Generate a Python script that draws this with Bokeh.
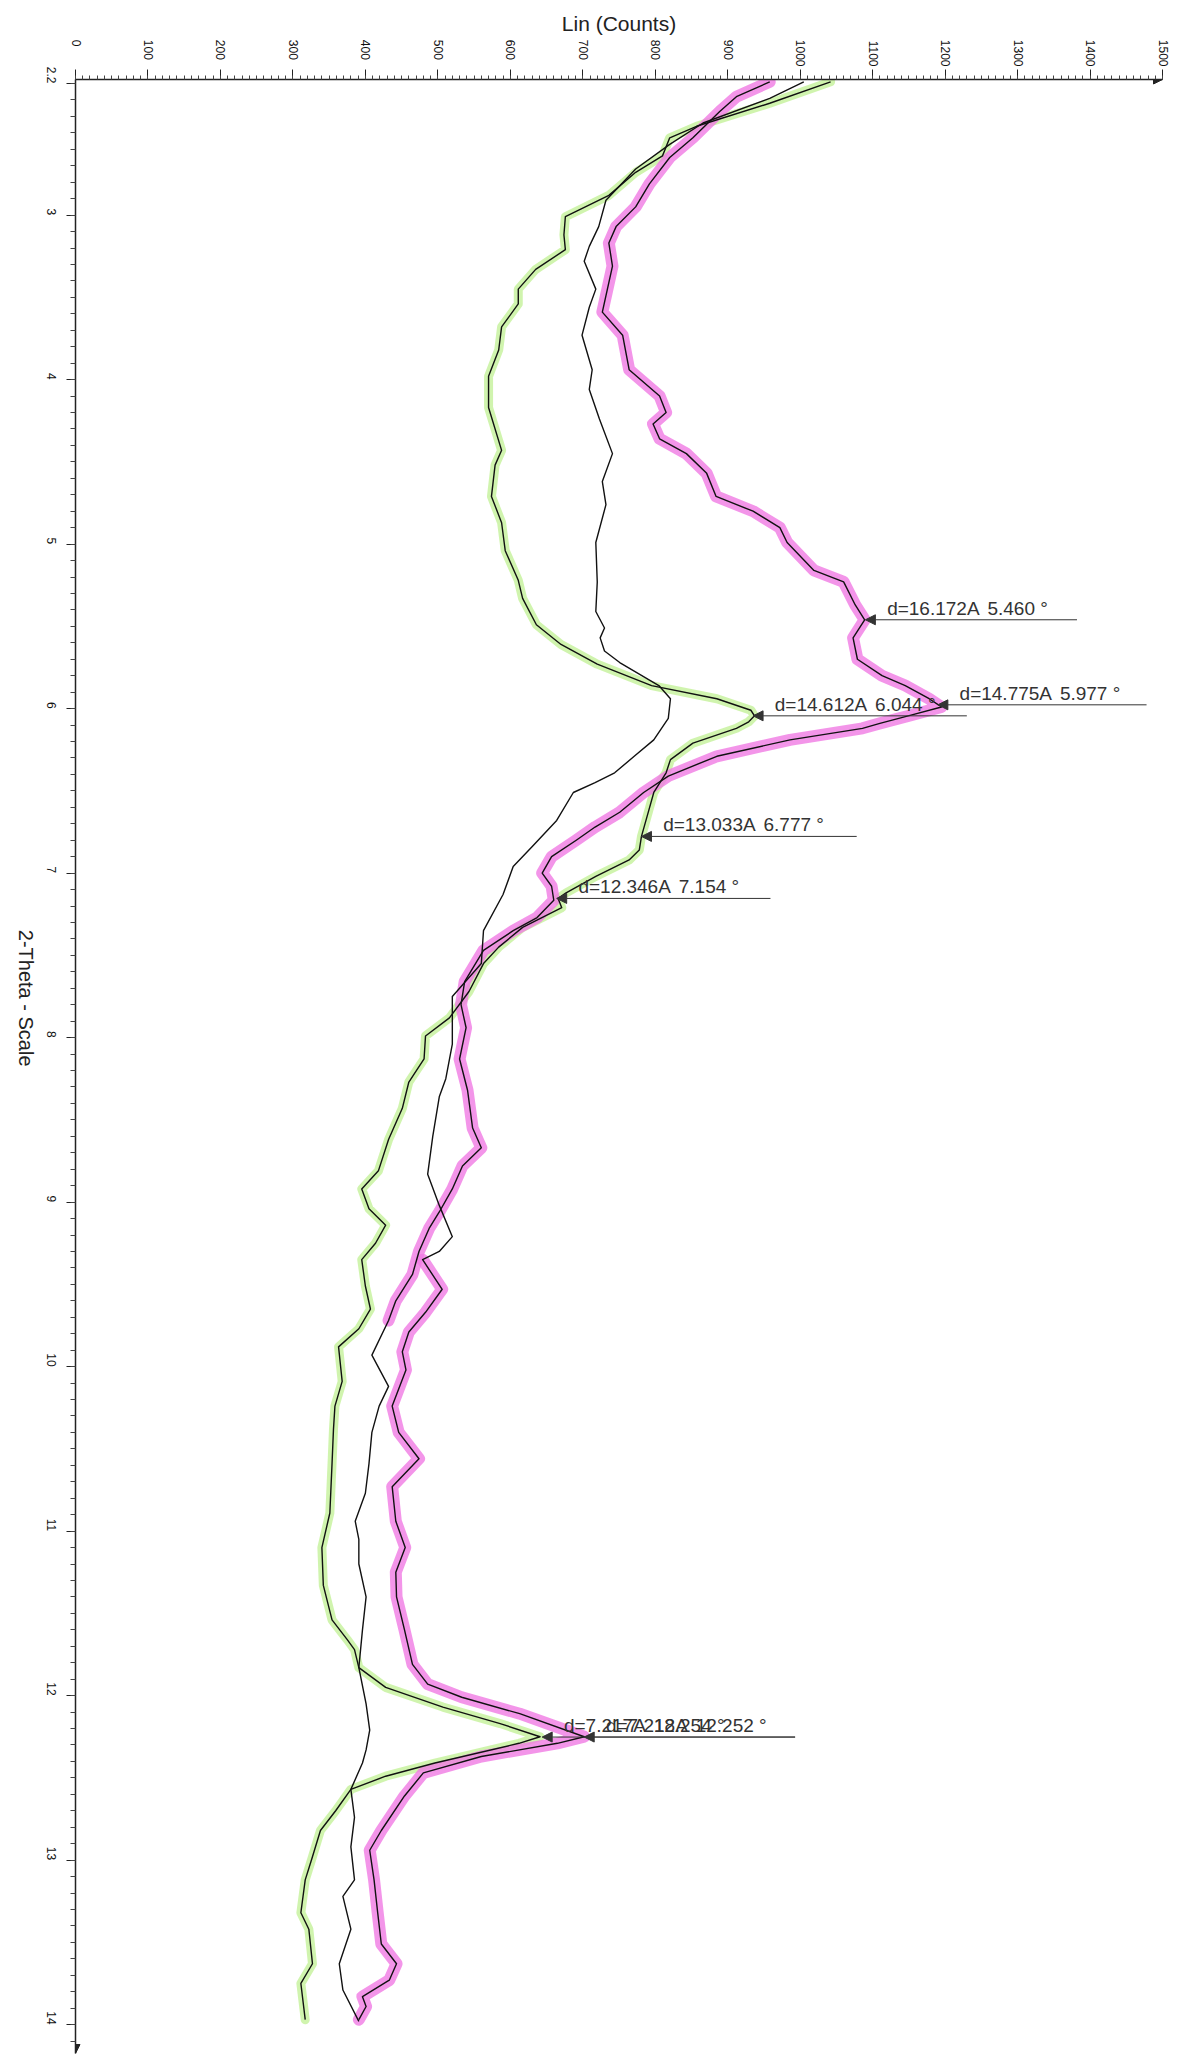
import math
from bokeh.plotting import figure
from bokeh.models import (Range1d, FixedTicker, ColumnDataSource, LabelSet,
                          Arrow, NormalHead)
from bokeh.embed import file_html
from bokeh.resources import INLINE
from bokeh.core.properties import value

# ---------------- data (2-Theta in degrees, intensity in counts) ----------------
a_theta = [2.19, 2.32, 2.46, 2.53, 2.64, 2.74, 2.88, 3.01, 3.12, 3.21, 3.33, 3.45, 3.54, 3.68,
           3.82, 3.98, 4.17, 4.43, 4.52, 4.71, 4.87, 5.04, 5.22, 5.33, 5.49, 5.61, 5.73, 5.86,
           5.94, 6.01, 6.044, 6.08, 6.12, 6.21, 6.31, 6.39, 6.51, 6.62, 6.777, 6.86, 6.92, 7.02,
           7.12, 7.154, 7.21, 7.33, 7.45, 7.55, 7.72, 7.88, 7.99, 8.13, 8.27, 8.43, 8.62, 8.81,
           8.92, 9.04, 9.14, 9.25, 9.35, 9.51, 9.65, 9.77, 9.88, 10.09, 10.24, 10.38, 10.59,
           10.89, 11.10, 11.33, 11.54, 11.66, 11.72, 11.83, 11.95, 12.07, 12.17, 12.25, 12.29,
           12.41, 12.49, 12.57, 12.70, 12.82, 12.98, 13.12, 13.32, 13.42, 13.63, 13.75, 13.97]
a_counts = [1042, 958, 857, 820, 810, 773, 736, 676, 674, 676, 635, 611, 611, 588,
            584, 570, 570, 588, 579, 574, 588, 593, 611, 617, 636, 670, 720, 795,
            885, 932, 937, 929, 912, 852, 821, 815, 798, 791, 781, 778, 764, 718,
            677, 666, 671, 617, 584, 563, 543, 516, 483, 481, 460, 451, 432, 418,
            395, 405, 428, 414, 395, 400, 407, 391, 363, 368, 358, 356, 354,
            351, 340, 342, 354, 375, 385, 391, 428, 507, 586, 641, 612,
            496, 428, 380, 359, 338, 327, 317, 311, 322, 327, 311, 317]

b_theta = [2.19, 2.28, 2.37, 2.53, 2.65, 2.81, 2.95, 3.07, 3.17, 3.31, 3.45, 3.59, 3.73, 3.94,
           4.10, 4.20, 4.27, 4.36, 4.45, 4.57, 4.71, 4.80, 4.90, 4.99, 5.16, 5.23, 5.37, 5.46,
           5.57, 5.70, 5.80, 5.86, 5.94, 5.99, 6.04, 6.09, 6.12, 6.19, 6.29, 6.41, 6.51, 6.63,
           6.72, 6.80, 6.90, 7.00, 7.08, 7.165, 7.27, 7.35, 7.47, 7.66, 7.80, 7.94, 8.13, 8.32,
           8.55, 8.67, 8.78, 8.92, 9.06, 9.16, 9.30, 9.44, 9.60, 9.72, 9.93, 10.12, 10.24, 10.40,
           10.59, 10.77, 10.94, 11.05, 11.20, 11.40, 11.60, 11.83, 12.05, 12.21, 12.33, 12.41,
           12.57, 12.74, 12.92, 13.12, 13.22, 13.42, 13.63, 13.79, 13.98]
b_counts = [958, 912, 889, 852, 820, 792, 773, 746, 736, 741, 734, 727, 755, 764,
            806, 815, 797, 806, 843, 871, 884, 935, 972, 982, 1019, 1060, 1076, 1089,
            1073, 1079, 1113, 1145, 1178, 1195, 1153, 1110, 1086, 986, 885, 818, 784, 751,
            717, 691, 657, 644, 657, 660, 637, 604, 563, 537, 532, 539, 530, 541,
            548, 560, 534, 520, 502, 488, 474, 465, 442, 432, 409, 432, 419, 409,
            405, 400, 386, 391, 391, 401, 396, 391, 401, 406, 401, 396,
            380, 385, 380, 385, 369, 380, 364, 369, 391]

c_theta = [2.19, 2.29, 2.44, 2.57, 2.72, 2.91, 3.07, 3.19, 3.28, 3.45, 3.56, 3.73, 3.94, 4.06,
           4.24, 4.45, 4.62, 4.76, 4.99, 5.23, 5.41, 5.51, 5.57, 5.65, 5.72, 5.86, 5.94, 6.06,
           6.19, 6.29, 6.39, 6.45, 6.51, 6.68, 6.84, 6.96, 7.13, 7.35, 7.55, 7.75, 8.04, 8.25,
           8.36, 8.60, 8.83, 9.02, 9.21, 9.30, 9.35, 9.53, 9.67, 9.79, 9.91, 10.02, 10.24, 10.40,
           10.56, 10.73, 10.94, 11.10, 11.25, 11.40, 11.60, 11.81, 11.93, 12.01, 12.11, 12.25,
           12.29, 12.37, 12.47, 12.61, 12.82, 12.94, 13.12, 13.32, 13.51, 13.63, 13.73, 13.83,
           13.89, 13.97]
c_counts = [1005, 958, 866, 820, 773, 732, 722, 709, 702, 718, 709, 699, 713, 709,
            723, 741, 727, 732, 718, 720, 718, 730, 724, 730, 751, 805, 821, 818,
            798, 771, 744, 717, 687, 664, 630, 604, 590, 563, 560, 520, 520, 511,
            502, 493, 486, 502, 520, 502, 479, 506, 483, 460, 451, 456, 437, 446,
            474, 437, 442, 455, 442, 443, 454, 465, 486, 533, 613, 702,
            665, 560, 480, 454, 422, 406, 412, 417, 422, 443, 433, 396,
            401, 391]

# peak annotations
peak_d = ["d=16.172A", "d=14.775A", "d=14.612A", "d=13.033A", "d=12.346A", "d=7.217A", "d=7.218A"]
peak_angle = ["5.460 °", "5.977 °", "6.044 °", "6.777 °", "7.154 °", "12.254 °", "12.252 °"]
peak_theta = [5.460, 5.977, 6.044, 6.777, 7.154, 12.252, 12.252]
peak_counts = [1090, 1190, 935, 781, 664, 644, 702]
peak_line_end = [1382, 1478, 1230, 1078, 959, 993, 993]

x_ticks = list(range(0, 1501, 100))
y_ticks = [2.2] + list(range(3, 15))
y_tick_labels = ["2.2"] + [str(t) for t in range(3, 15)]

# ---------------- geometry helpers ----------------
PX_PER_COUNT = 1088 / 1500.0
PX_PER_DEG = 164.5
FONT = "Liberation Sans"
FIG_SPACE = "\u2007"   # digit-wide space: keeps the rotated count labels top-aligned

def dx(px):      # screen px -> counts
    return px / PX_PER_COUNT

def dy(px):      # screen px (downwards) -> degrees
    return px / PX_PER_DEG

y_top = 2.2 - dy(4)
y_bot = 2.2 + dy(2053 - 83)

p = figure(width=1186, height=2056, x_range=Range1d(0, 1500), y_range=Range1d(y_bot, y_top),
           x_axis_location="above", y_axis_location="left",
           output_backend="svg", toolbar_location=None,
           min_border_left=74, min_border_top=79, min_border_right=24, min_border_bottom=3)
p.outline_line_color = None
p.grid.visible = False
p.background_fill_color = "white"
p.border_fill_color = "white"

xa = p.xaxis[0]
xa.ticker = FixedTicker(ticks=x_ticks, minor_ticks=list(range(0, 1501, 10)))
xa.major_label_overrides = {t: str(t) + FIG_SPACE * (4 - len(str(t))) for t in x_ticks}
xa.major_label_orientation = -math.pi / 2
xa.major_label_standoff = 3
xa.major_label_text_font = FONT
xa.major_label_text_font_size = "12px"
xa.major_label_text_color = "#111111"
xa.major_tick_out = 10
xa.major_tick_in = 0
xa.minor_tick_out = 4
xa.minor_tick_in = 0
xa.axis_line_width = 1.5
xa.axis_line_color = "#222222"
xa.major_tick_line_color = "#222222"
xa.minor_tick_line_color = "#444444"
xa.axis_label = "Lin (Counts)"
xa.axis_label_text_font = FONT
xa.axis_label_text_font_size = "21px"
xa.axis_label_text_font_style = "normal"
xa.axis_label_text_color = "#222222"
xa.axis_label_standoff = 2

ya = p.yaxis[0]
ya.ticker = FixedTicker(ticks=y_ticks, minor_ticks=[round(2.2 + 0.1 * i, 2) for i in range(0, 120)])
ya.major_label_overrides = {t: s for t, s in zip(y_ticks, y_tick_labels)}
ya.major_label_orientation = -math.pi / 2
ya.major_label_standoff = 15
ya.major_label_text_font = FONT
ya.major_label_text_font_size = "12px"
ya.major_label_text_color = "#111111"
ya.major_tick_out = 9
ya.major_tick_in = 0
ya.minor_tick_out = 5
ya.minor_tick_in = 0
ya.axis_line_width = 1.5
ya.axis_line_color = "#222222"
ya.major_tick_line_color = "#222222"
ya.minor_tick_line_color = "#444444"
ya.axis_label = "2-Theta - Scale"
ya.axis_label_text_font = FONT
ya.axis_label_text_font_size = "20px"
ya.axis_label_text_font_style = "normal"
ya.axis_label_text_color = "#222222"
ya.axis_label_standoff = 14
if "axis_label_orientation" in ya.properties():
    ya.axis_label_orientation = -math.pi / 2

# highlighter strokes (drawn under the black traces)
GREEN = "#c8f2a0"
PINK = "#f07ae4"
p.line(a_counts, a_theta, line_color=GREEN, line_width=9, line_alpha=0.85, line_cap="round", line_join="round")
b_seg = [(c, t) for c, t in zip(b_counts, b_theta) if t <= 9.8]
p.line([c for c, t in b_seg], [t for c, t in b_seg], line_color=PINK, line_width=12,
       line_alpha=0.8, line_cap="round", line_join="round")
c_seg = [(c, t) for c, t in zip(c_counts, c_theta) if t >= 9.34]
p.line([c for c, t in c_seg], [t for c, t in c_seg], line_color=PINK, line_width=12,
       line_alpha=0.8, line_cap="round", line_join="round")

# black traces
for xs, ys in ((a_counts, a_theta), (b_counts, b_theta), (c_counts, c_theta)):
    p.line(xs, ys, line_color="#111111", line_width=1.4, line_join="round")

# peak markers: arrow lines + labels
arr_src = ColumnDataSource(dict(x0=peak_line_end, x1=peak_counts, y=peak_theta))
p.add_layout(Arrow(source=arr_src, x_start="x0", y_start="y", x_end="x1", y_end="y",
                   line_color="#333333", line_width=1,
                   end=NormalHead(size=10, fill_color="#333333", line_color="#333333", line_width=1)))
d_x = [c + 30 for c in peak_counts]
a_x = [x + dx(10.6 * len(d) + 5) for x, d in zip(d_x, peak_d)]
lab_y = [t - dy(5) for t in peak_theta]
lab_src = ColumnDataSource(dict(dx=d_x, ax=a_x, y=lab_y, dtext=peak_d, atext=peak_angle))
for xf, tf in (("dx", "dtext"), ("ax", "atext")):
    p.add_layout(LabelSet(source=lab_src, x=xf, y="y", text=tf, text_font=value(FONT),
                          text_font_size="19px", text_color="#333333",
                          text_align="left", text_baseline="alphabetic"))

# axis end arrows
p.add_layout(Arrow(x_start=1480, y_start=y_top, x_end=1500, y_end=y_top, line_width=0,
                   line_alpha=0, end=NormalHead(size=9, fill_color="#222222", line_color="#222222")))
p.add_layout(Arrow(x_start=0, y_start=y_bot - dy(20), x_end=0, y_end=y_bot, line_width=0,
                   line_alpha=0, end=NormalHead(size=9, fill_color="#222222", line_color="#222222")))

open("out.html", "w").write(file_html(p, INLINE))
